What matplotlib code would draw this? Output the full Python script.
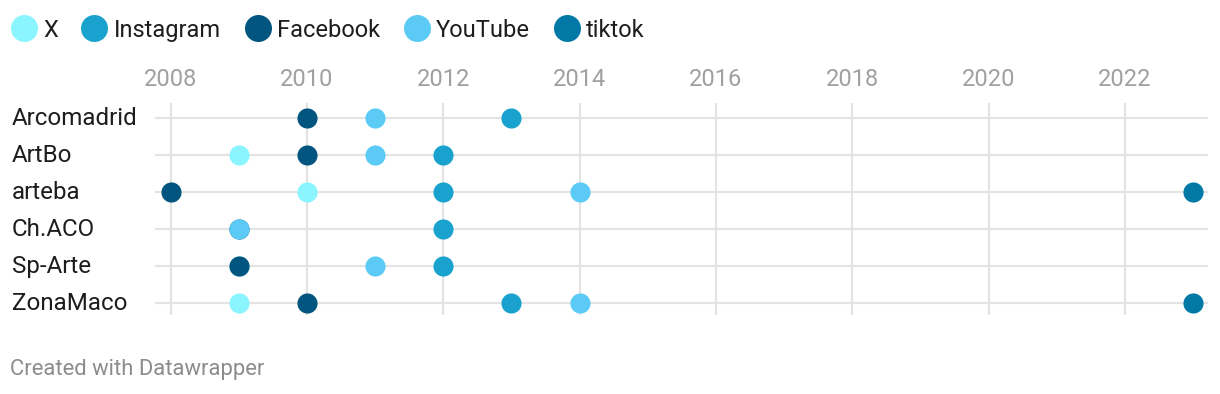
import matplotlib
matplotlib.use('Agg')
import matplotlib.pyplot as plt
import matplotlib.transforms as mtransforms

plt.rcParams['font.family'] = ['Roboto', 'DejaVu Sans']

fairs = ['Arcomadrid', 'ArtBo', 'arteba', 'Ch.ACO', 'Sp-Arte', 'ZonaMaco']
platforms = ['X', 'Instagram', 'Facebook', 'YouTube', 'tiktok']
colors = ['#8af5ff', '#18a2cd', '#02557f', '#5bcbf6', '#0179a6']

# year each fair joined each platform (None = not shown)
x_year = [None, 2009, 2010, None, 2009, 2009]
instagram_year = [2013, 2012, 2012, 2012, 2012, 2013]
facebook_year = [2010, 2010, 2008, 2009, 2009, 2010]
youtube_year = [2011, 2011, 2014, 2009, 2011, 2014]
tiktok_year = [None, None, 2023, None, None, 2023]
series = [x_year, instagram_year, facebook_year, youtube_year, tiktok_year]

xticks = list(range(2008, 2023, 2))

W, H = 1220, 394
fig = plt.figure(figsize=(W/100, H/100), dpi=100)
ax = fig.add_axes([155/W, 79/H, 1053/W, 212/H])

for vals, c in zip(series, colors):
    pts = [(y, i) for i, y in enumerate(vals) if y is not None]
    ax.scatter([p[0] for p in pts], [p[1] for p in pts], s=210, color=c,
               linewidths=0, zorder=3)

ax.set_xlim(2007.77, 2023.22)
ax.set_ylim(5.33, -0.41)
ax.set_xticks(xticks)
ax.set_xticklabels([str(t) for t in xticks], fontsize=17, color='#a0a0a0')
ax.xaxis.tick_top()
ax.tick_params(axis='x', length=0, pad=9)
ax.set_yticks(range(len(fairs)))
ax.set_yticklabels([])
ax.tick_params(axis='y', length=0)
ax.grid(True, color='#e3e3e3', linewidth=1.5, zorder=0)
ax.set_axisbelow(True)
for s in ax.spines.values():
    s.set_visible(False)

trans = mtransforms.blended_transform_factory(fig.transFigure, ax.transData)
for i, name in enumerate(fairs):
    ax.text(12/W, i + 0.02, name, transform=trans, ha='left', va='center',
            fontsize=17.4, color='#1d1d1d')

# legend: circle, label, circle, label ... laid out from measured text widths
lax = fig.add_axes([0, 0, 1, 1])
lax.set_xlim(0, W); lax.set_ylim(H, 0); lax.axis('off')
renderer = fig.canvas.get_renderer()
x = 10
for p, c in zip(platforms, colors):
    r = 13.5
    lax.scatter([x + r], [28], s=(2*r*0.72)**2, color=c, linewidths=0)
    t = lax.text(x + 2*r + 6, 28, p, fontsize=17, color='#1d1d1d',
                 ha='left', va='center_baseline')
    bb = t.get_window_extent(renderer)
    x = bb.x1 + 23

fig.text(10/W, 1 - 370/H, 'Created with Datawrapper', fontsize=15.8,
         color='#8c8c8c', va='center', ha='left')

fig.savefig('out.png', dpi=100)
